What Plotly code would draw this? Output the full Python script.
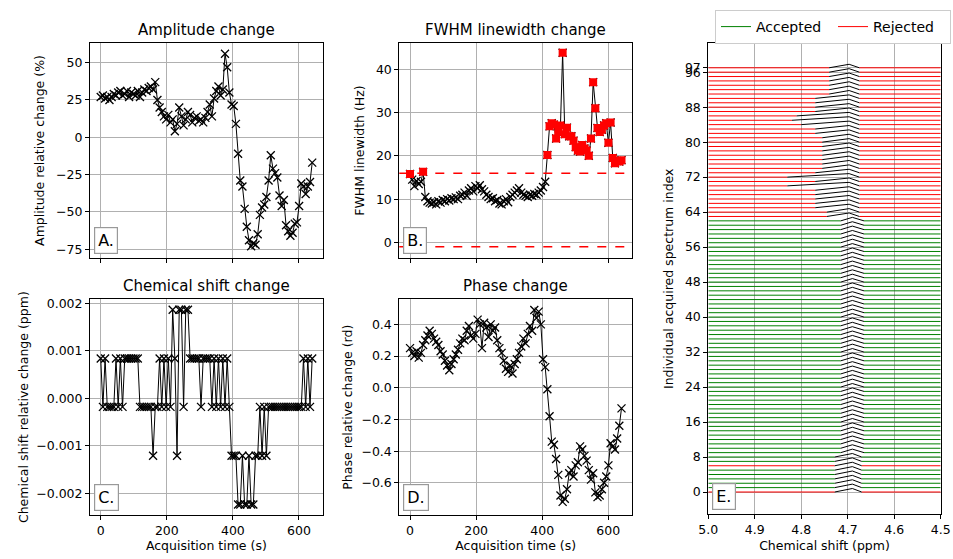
import plotly.graph_objects as go

W, H = 953, 559

# ---------------- data ----------------
TR = 6.6  # seconds between acquisitions
spectrum_index = list(range(98))
acq_time = [round(i * TR, 1) for i in spectrum_index]

amplitude = [27, 28, 26, 27, 25, 27, 29, 28, 30, 31, 28, 29, 31, 27, 30, 29, 28, 31, 27, 30,
             32, 31, 33, 34, 32, 37,
             25, 20, 17, 14, 12, 15, 10, 12, 4, 9, 20, 14, 8, 12, 17, 15, 10, 13, 14, 11,
             12, 10, 13, 17, 22, 14, 26, 31, 34, 28, 32,
             56, 47, 30, 22, 21, 9, -11, -29, -33, -48, -60, -69, -73, -71, -72, -65, -52, -47,
             -45, -40, -29, -12, -21, -24, -27, -39, -46, -42, -59, -63, -66, -64, -58, -57,
             -46, -31, -33, -38, -33, -30, -17]

fwhm = [15.8, 14.5, 13.0, 14.2, 13.5, 14.0, 16.3, 10.5, 9.5, 9.2,
        9.0, 9.3, 8.8, 9.5, 9.2, 9.8, 9.5, 10.0, 9.7, 10.2,
        10.0, 10.4, 10.0, 10.8, 11.0, 11.5, 10.8, 12.0, 12.5, 11.8,
        13.0, 12.5, 13.2, 12.3, 11.8, 11.0, 10.5, 10.0, 10.2, 9.5,
        9.8, 9.0, 8.8, 9.5, 10.0, 9.3, 10.5, 11.0, 11.5, 12.0,
        12.5, 11.5, 11.0, 10.8, 10.5, 11.0, 10.8, 11.2, 11.0, 11.5,
        12.0, 12.8, 14.0,
        20.2, 26.8, 27.5, 27.2, 24.0, 25.5, 27.0, 43.8, 25.0, 26.5,
        24.5, 24.5, 23.5, 22.0, 21.2, 21.0, 22.5, 21.7, 21.2, 20.0,
        24.0, 37.0, 31.0, 26.4, 25.5, 26.0, 27.0, 27.5, 23.0, 27.7,
        19.5, 18.3, 18.8, 18.7, 19.0]
fwhm_thresholds = [16.0, -1.0]

T, Hh, M, L, B = 0.00187, 0.00084, -0.00018, -0.00121, -0.00224
chem_shift = [Hh, M, Hh, M, M, M, M, Hh, M, Hh,
              M, Hh, Hh, Hh, Hh, Hh, Hh, Hh, M, M,
              M, M, M, M, L, M, M, Hh, M, Hh,
              M, Hh, M, T, Hh, L, T, T, M, T,
              T, Hh, Hh, Hh, Hh, Hh, M, Hh, Hh, Hh,
              Hh, M, Hh, M, Hh, M, Hh, M, Hh, M,
              L, L, L, B, B, L, B, B, L, B,
              B, L, L, M, L, M, L, M, M, M,
              M, M, M, M, M, M, M, M, M, M,
              M, M, M, Hh, M, Hh, M, Hh]

phase = [0.25, 0.22, 0.20, 0.23, 0.19, 0.22, 0.27, 0.30, 0.33, 0.36,
         0.34, 0.31, 0.29, 0.27, 0.23, 0.21, 0.17, 0.14, 0.11, 0.15,
         0.18, 0.21, 0.24, 0.28, 0.31, 0.30, 0.36, 0.39, 0.33, 0.31,
         0.34, 0.43, 0.40, 0.25, 0.41, 0.38, 0.32, 0.40, 0.36, 0.38,
         0.30, 0.25, 0.22, 0.17, 0.12, 0.10, 0.14, 0.09, 0.15, 0.18,
         0.22, 0.26, 0.31, 0.28, 0.34, 0.39, 0.36, 0.49, 0.44, 0.48,
         0.40, 0.18, 0.13, -0.01, -0.18, -0.34, -0.36, -0.45, -0.55, -0.68,
         -0.72, -0.70, -0.64, -0.54, -0.52, -0.56, -0.49, -0.47, -0.37, -0.39,
         -0.43, -0.46, -0.52, -0.58, -0.54, -0.66, -0.69, -0.68, -0.64, -0.60,
         -0.56, -0.49, -0.35, -0.37, -0.39, -0.32, -0.24, -0.13]

rejected = [0, 6] + list(range(63, 98))

# spectra (panel E): black peak region edges (ppm), apex, height
peak_left = ([4.728] * 9 + [4.715] * 54 +
             [4.745, 4.745, 4.77, 4.77, 4.77, 4.77, 4.77, 4.83, 4.77, 4.83, 4.77] +
             [4.755] * 8 + [4.77, 4.77, 4.80, 4.82, 4.81] + [4.77] * 4 + [4.74] * 7)
peak_right = [4.67] * 9 + [4.665] * 54 + [4.675] * 35
peak_apex = [4.69] * 63 + [4.697] * 35
peak_height = 0.8
ppm_range = [5.0, 4.5]

# ---------------- figure ----------------
def xd(a, b):
    return [a / W, b / W]

def yd(top, bottom):
    return [1 - bottom / H, 1 - top / H]

fig = go.Figure()

line_style = dict(color="black", width=1)
xmark = dict(symbol="x-thin", size=8, color="black", line=dict(color="black", width=1.3))

fig.add_trace(go.Scatter(x=acq_time, y=amplitude, mode="lines+markers", line=line_style,
                         marker=xmark, xaxis="x", yaxis="y", showlegend=False))
fig.add_trace(go.Scatter(x=acq_time, y=fwhm, mode="lines+markers", line=line_style,
                         marker=xmark, xaxis="x2", yaxis="y2", showlegend=False))
fig.add_trace(go.Scatter(x=[acq_time[i] for i in rejected], y=[fwhm[i] for i in rejected],
                         mode="markers", marker=dict(symbol="square", size=8, color="red"),
                         xaxis="x2", yaxis="y2", showlegend=False))
fig.add_trace(go.Scatter(x=acq_time, y=chem_shift, mode="lines+markers", line=line_style,
                         marker=xmark, xaxis="x3", yaxis="y3", showlegend=False))
fig.add_trace(go.Scatter(x=acq_time, y=phase, mode="lines+markers", line=line_style,
                         marker=xmark, xaxis="x4", yaxis="y4", showlegend=False))

# spectra stack
gx, gy, rx, ry, kx, ky = [], [], [], [], [], []
for i in spectrum_index:
    seg_x = [ppm_range[0], peak_left[i], None, peak_right[i], ppm_range[1], None]
    seg_y = [i, i, None, i, i, None]
    if i in rejected:
        rx += seg_x; ry += seg_y
    else:
        gx += seg_x; gy += seg_y
    kx += [peak_left[i], peak_apex[i], peak_right[i], None]
    ky += [i, i + peak_height, i, None]

fig.add_trace(go.Scatter(x=gx, y=gy, mode="lines", line=dict(color="green", width=1),
                         name="Accepted", xaxis="x5", yaxis="y5"))
fig.add_trace(go.Scatter(x=rx, y=ry, mode="lines", line=dict(color="red", width=1),
                         name="Rejected", xaxis="x5", yaxis="y5"))
fig.add_trace(go.Scatter(x=kx, y=ky, mode="lines", line=dict(color="black", width=1),
                         xaxis="x5", yaxis="y5", showlegend=False))

FONT = "DejaVu Sans, Arial, sans-serif"
ax = dict(showline=True, linecolor="black", linewidth=1, mirror=True, ticks="outside",
          ticklen=4, tickwidth=1, tickcolor="black", showgrid=True, gridcolor="#b0b0b0",
          gridwidth=0.8, zeroline=False, tickfont=dict(size=12.5, color="black", family=FONT),
          automargin=False)
tfont = dict(size=12.5, color="black", family=FONT)
tvals_t = [0, 200, 400, 600]

fig.update_layout(
    width=W, height=H, margin=dict(l=0, r=0, t=0, b=0, autoexpand=False),
    plot_bgcolor="white", paper_bgcolor="white",
    font=dict(family=FONT, color="black"),
    xaxis=dict(ax, domain=xd(90, 322.7), range=[-32.5, 672], anchor="y",
               tickvals=tvals_t, showticklabels=False),
    yaxis=dict(ax, domain=yd(42.7, 258.3), range=[-81.1, 63.4], anchor="x",
               tickvals=[-75, -50, -25, 0, 25, 50],
               title=dict(text="Amplitude relative change (%)", font=tfont, standoff=8)),
    xaxis2=dict(ax, domain=xd(399.3, 632), range=[-32.5, 672], anchor="y2",
                tickvals=tvals_t, showticklabels=False),
    yaxis2=dict(ax, domain=yd(42.7, 258.3), range=[-3.65, 46.1], anchor="x2",
                tickvals=[0, 10, 20, 30, 40],
                title=dict(text="FWHM linewidth (Hz)", font=tfont, standoff=8)),
    xaxis3=dict(ax, domain=xd(90, 322.7), range=[-32.5, 672], anchor="y3",
                tickvals=tvals_t,
                title=dict(text="Acquisition time (s)", font=tfont, standoff=4)),
    yaxis3=dict(ax, domain=yd(299.3, 515), range=[-0.00246, 0.00209], anchor="x3",
                tickvals=[-0.002, -0.001, 0, 0.001, 0.002], tickformat=".3f",
                title=dict(text="Chemical shift relative change (ppm)", font=tfont, standoff=4)),
    xaxis4=dict(ax, domain=xd(399.3, 632), range=[-32.5, 672], anchor="y4",
                tickvals=tvals_t,
                title=dict(text="Acquisition time (s)", font=tfont, standoff=4)),
    yaxis4=dict(ax, domain=yd(299.3, 515), range=[-0.803, 0.558], anchor="x4",
                tickvals=[-0.6, -0.4, -0.2, 0, 0.2, 0.4], tickformat=".1f",
                title=dict(text="Phase relative change (rd)", font=tfont, standoff=6)),
    xaxis5=dict(ax, domain=xd(708.3, 940.7), range=ppm_range, anchor="y5",
                tickvals=[5.0, 4.9, 4.8, 4.7, 4.6, 4.5], tickformat=".1f",
                title=dict(text="Chemical shift (ppm)", font=tfont, standoff=4)),
    yaxis5=dict(ax, domain=yd(43.3, 514.3), range=[-5.1, 102.6], anchor="x5",
                tickvals=list(range(0, 97, 8)) + [97],
                title=dict(text="Individual acquired spectrum index", font=tfont, standoff=8)),
    legend=dict(orientation="h", x=715 / W, y=1 - 10 / H, xanchor="left", yanchor="top",
                bordercolor="#cccccc", borderwidth=1, bgcolor="white", entrywidth=72,
                font=dict(size=14, family=FONT, color="black")),
)

# threshold lines on FWHM panel
for thr in fwhm_thresholds:
    fig.add_shape(type="line", xref="x2 domain", yref="y2", x0=0, x1=1, y0=thr, y1=thr,
                  line=dict(color="red", width=1.5, dash="dash"))

# titles
titles = [("Amplitude change", (90 + 322.7) / 2, 30),
          ("FWHM linewidth change", (399.3 + 632) / 2, 30),
          ("Chemical shift change", (90 + 322.7) / 2, 286),
          ("Phase change", (399.3 + 632) / 2, 286)]
for txt, xc, yc in titles:
    fig.add_annotation(text=txt, x=xc / W, y=1 - yc / H, xref="paper", yref="paper",
                       showarrow=False, xanchor="center", yanchor="middle",
                       font=dict(size=15, family=FONT, color="black"))

# panel labels
labels = [("A.", 90, 258.3), ("B.", 399.3, 258.3), ("C.", 90, 515), ("D.", 399.3, 515),
          ("E.", 708.3, 514.3)]
for txt, xl, yb in labels:
    fig.add_annotation(text=txt, x=(xl + 4) / W, y=1 - (yb - 4) / H, xref="paper", yref="paper",
                       showarrow=False, xanchor="left", yanchor="bottom",
                       font=dict(size=16, family=FONT, color="black"),
                       bgcolor="white", bordercolor="#999999", borderwidth=1.2, borderpad=3)

fig.write_html("out.html")
